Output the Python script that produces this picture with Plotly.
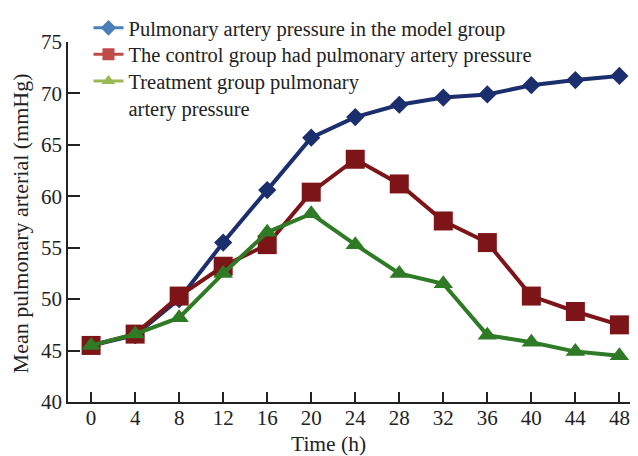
import plotly.graph_objects as go

hours = [0, 4, 8, 12, 16, 20, 24, 28, 32, 36, 40, 44, 48]
model_group = [45.5, 46.5, 50.0, 55.5, 60.6, 65.7, 67.7, 68.9, 69.6, 69.9, 70.8, 71.3, 71.7]
control_group = [45.5, 46.6, 50.3, 53.2, 55.3, 60.4, 63.6, 61.2, 57.6, 55.5, 50.3, 48.8, 47.5]
treatment_group = [45.5, 46.6, 48.2, 52.5, 56.5, 58.3, 55.3, 52.5, 51.5, 46.5, 45.8, 44.9, 44.5]
y_ticks = [40, 45, 50, 55, 60, 65, 70, 75]

names = [
    "Pulmonary artery pressure in the model group",
    "The control group had pulmonary artery pressure",
    "Treatment group pulmonary<br>artery pressure",
]
line_colors = ["#1b2f6e", "#7d1518", "#2f7a25"]
legend_colors = ["#4a7ebb", "#be4b48", "#98b954"]
symbols = ["diamond", "square", "triangle-up"]
sizes = [14, 19, 17]
series = [model_group, control_group, treatment_group]
legend_ids = ["legend", "legend2", "legend3"]

fig = go.Figure()
for i in [0, 1, 2]:
    fig.add_trace(go.Scatter(
        x=hours, y=series[i], mode="lines+markers", showlegend=False,
        line=dict(color=line_colors[i], width=4),
        marker=dict(symbol=symbols[i], size=sizes[i], color=line_colors[i]),
    ))
for i in range(3):
    fig.add_trace(go.Scatter(
        x=[None], y=[None], mode="lines+markers", name=names[i], legend=legend_ids[i],
        line=dict(color=legend_colors[i], width=3),
        marker=dict(symbol=symbols[i], size=12, color=legend_colors[i]),
    ))

font_family = "Liberation Serif, Times New Roman, serif"
leg_common = dict(x=0.036, xanchor="left", yanchor="top", valign="top",
                  bgcolor="rgba(0,0,0,0)", font=dict(size=20.5, family=font_family),
                  itemwidth=30)
# page body has an 8px default margin, so the figure is sized 630x448
fig.update_layout(
    width=630, height=448,
    margin=dict(l=60, r=1, t=33, b=54),
    paper_bgcolor="white", plot_bgcolor="white",
    font=dict(family=font_family, size=21, color="#222"),
    legend=dict(y=1.0914, **leg_common),
    legend2=dict(y=1.018, **leg_common),
    legend3=dict(y=0.944, **leg_common),
    xaxis=dict(range=[-2.1, 49.6], tickvals=hours, ticks="inside", ticklen=10,
               tickcolor="#222", tickwidth=1.5, showline=True, linecolor="#222", linewidth=1.5,
               showgrid=False, zeroline=False, automargin=False,
               ticklabelstandoff=-4, tickfont=dict(size=21)),
    yaxis=dict(range=[40, 75], tickvals=y_ticks,
               ticks="inside", ticklen=12, tickcolor="#222", tickwidth=1.5,
               showline=True, linecolor="#222", linewidth=1.5, showgrid=False, zeroline=False,
               automargin=False, tickfont=dict(size=21)),
)
fig.add_annotation(text="Time (h)", xref="paper", yref="paper", x=0.457, y=-0.117,
                   xanchor="center", yanchor="middle", showarrow=False,
                   font=dict(size=21.5, family=font_family, color="#222"))
fig.add_annotation(text="Mean pulmonary arterial (mmHg)", xref="paper", yref="paper",
                   x=-0.0844, y=0.496, xanchor="center", yanchor="middle", textangle=-90,
                   showarrow=False, font=dict(size=22, family=font_family, color="#222"))

fig.write_html("out.html")
